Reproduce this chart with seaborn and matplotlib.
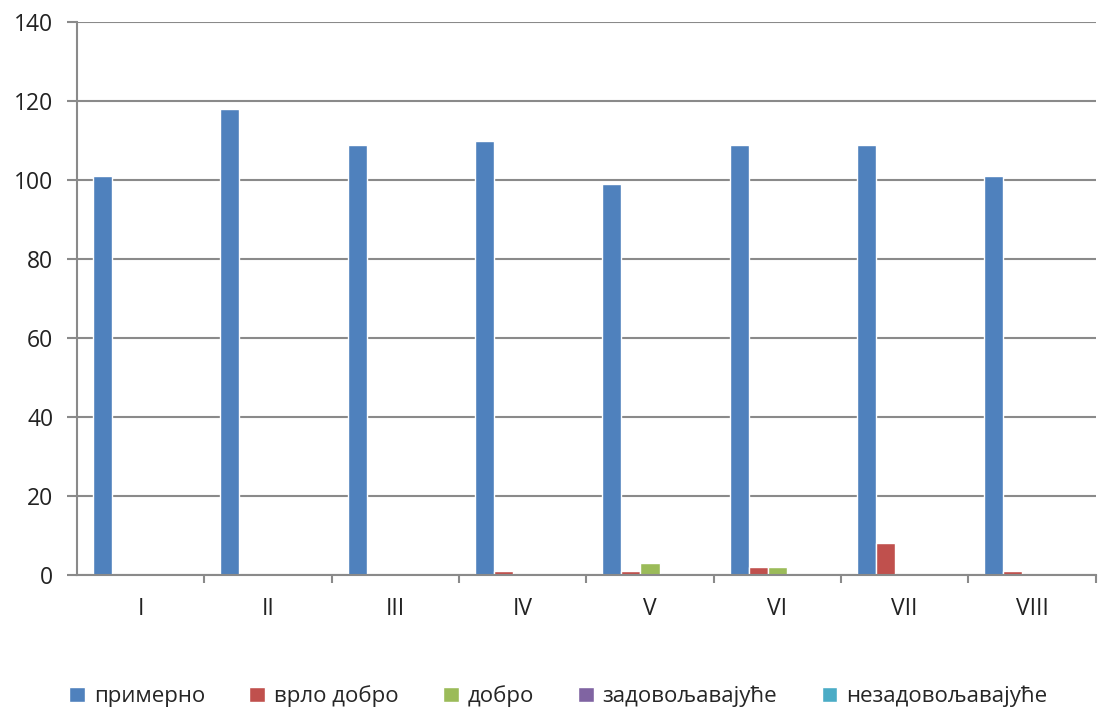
import matplotlib
matplotlib.use("Agg")
import matplotlib.pyplot as plt
import seaborn as sns
import pandas as pd
import numpy as np

categories = ["I", "II", "III", "IV", "V", "VI", "VII", "VIII"]
series_names = ["примерно", "врло добро", "добро", "задовољавајуће", "незадовољавајуће"]
primerno = [101, 118, 109, 110, 99, 109, 109, 101]
vrlo_dobro = [0, 0, 0, 1, 1, 2, 8, 1]
dobro = [0, 0, 0, 0, 3, 2, 0, 0]
zadovoljavajuce = [0, 0, 0, 0, 0, 0, 0, 0]
nezadovoljavajuce = [0, 0, 0, 0, 0, 0, 0, 0]
y_ticks = [0, 20, 40, 60, 80, 100, 120, 140]

colors = ["#4F81BD", "#C0504D", "#9BBB59", "#8064A2", "#4BACC6"]

rows = []
for name, vals in zip(series_names, [primerno, vrlo_dobro, dobro, zadovoljavajuce, nezadovoljavajuce]):
    for c, v in zip(categories, vals):
        rows.append({"cat": c, "series": name, "value": v})
df = pd.DataFrame(rows)

sns.set_theme(style="white")
plt.rcParams['font.family'] = ['Open Sans', 'DejaVu Sans']

fig = plt.figure(figsize=(10.99, 7.15), dpi=100)
ax = fig.add_axes([0.070, 0.196, 0.927, 0.773])

sns.barplot(data=df, x="cat", y="value", hue="series", order=categories,
            hue_order=series_names, palette=colors, width=0.75, gap=0,
            saturation=1, ax=ax, legend=True)

ax.set_xlim(-0.5, 7.5)
ax.set_ylim(0, 140)
ax.set_yticks(y_ticks)
ax.set_yticklabels([str(t) for t in y_ticks], fontsize=16.5, color="#222222")
ax.yaxis.grid(True, color="#8a8a8a", linewidth=1.5)
ax.set_axisbelow(True)

ax.set_xticks(range(len(categories)))
ax.set_xticklabels(categories, fontsize=16.5, color="#222222")
ax.set_xticks(np.arange(0.5, len(categories) - 0.4, 1.0), minor=True)
ax.tick_params(axis="x", which="major", length=0, pad=16)
ax.tick_params(axis="x", which="minor", length=6, width=1.5, color="#8a8a8a", direction="out", bottom=True)
ax.tick_params(axis="y", which="major", length=7, width=1.5, color="#8a8a8a", direction="out", left=True, pad=10)

for side in ["top", "right"]:
    ax.spines[side].set_visible(False)
for side in ["left", "bottom"]:
    ax.spines[side].set_color("#8a8a8a")
    ax.spines[side].set_linewidth(1.5)

ax.set_xlabel("")
ax.set_ylabel("")

handles, labels = ax.get_legend_handles_labels()
ax.get_legend().remove()
fig.legend(handles, labels, loc="center", bbox_to_anchor=(0.508, 0.026), ncol=5,
           frameon=False, fontsize=16, handlelength=0.7, handleheight=0.7,
           handletextpad=0.4, columnspacing=2.0)

fig.savefig("out.png", dpi=100)
